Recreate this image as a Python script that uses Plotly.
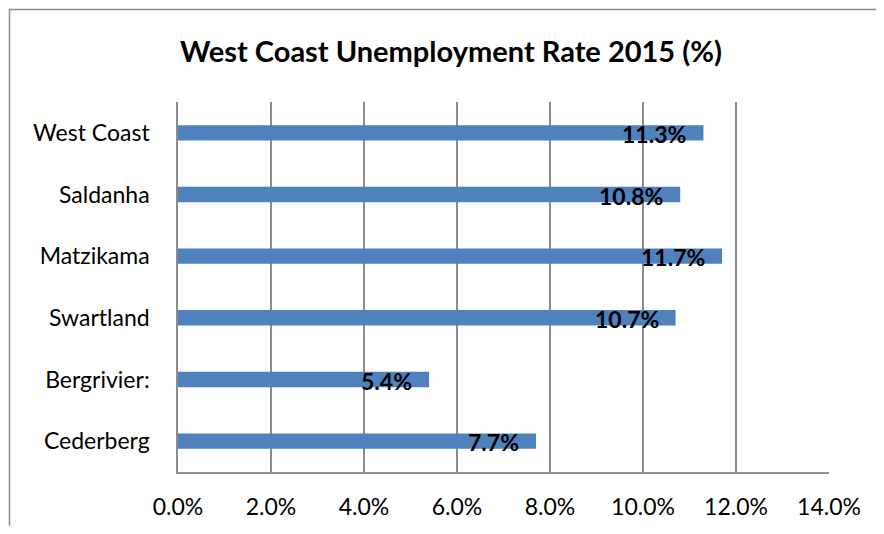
import plotly.graph_objects as go

categories = ["Cederberg", "Bergrivier:", "Swartland", "Matzikama", "Saldanha", "West Coast"]
values = [7.7, 5.4, 10.7, 11.7, 10.8, 11.3]
labels = ["7.7%", "5.4%", "10.7%", "11.7%", "10.8%", "11.3%"]
tick_vals = [0, 2, 4, 6, 8, 10, 12, 14]
tick_text = ["0.0%", "2.0%", "4.0%", "6.0%", "8.0%", "10.0%", "12.0%", "14.0%"]

FONT = "Lato"
GRID = "#8c8c8c"

OFF = 8
W, H = 884 - 2 * OFF, 534 - 2 * OFF
L, R, T, B = 178 - OFF, 829 - OFF, 102 - OFF, 472 - OFF

fig = go.Figure()
fig.add_trace(go.Bar(
    x=values, y=categories, orientation="h",
    marker=dict(color="#4F81BD", line=dict(width=0)),
    width=0.25, hoverinfo="skip",
))

annotations = []
for c, v, t in zip(categories, values, labels):
    annotations.append(dict(
        x=v, y=c, xref="x", yref="y", text="<b>%s</b>" % t,
        showarrow=False, xanchor="right", yanchor="middle",
        xshift=-15, yshift=-1,
        font=dict(family=FONT, size=23, color="black"),
    ))

def px(x): return (x - OFF - L) / (R - L)
def py(y): return (B - (y - OFF)) / (B - T)

shapes = [
    dict(type="line", xref="paper", yref="paper", x0=px(9), x1=px(890), y0=py(9.5), y1=py(9.5),
         line=dict(color="#8c8c8c", width=1.5)),
    dict(type="line", xref="paper", yref="paper", x0=px(9.5), x1=px(9.5), y0=py(9.5), y1=py(560),
         line=dict(color="#8c8c8c", width=1.5)),
]

fig.update_layout(
    width=W, height=H,
    margin=dict(l=L, r=W - R, t=T, b=H - B, pad=0, autoexpand=False),
    paper_bgcolor="white", plot_bgcolor="white",
    showlegend=False,
    title=dict(text="<b>West Coast Unemployment Rate 2015 (%)</b>", x=(451 - OFF) / W, xanchor="center",
               y=1 - (52 - OFF) / H, yanchor="middle", automargin=False,
               font=dict(family=FONT, size=29, color="black")),
    xaxis=dict(range=[0, 14], tickvals=tick_vals, ticktext=tick_text, automargin=False,
               showgrid=True, gridcolor=GRID, gridwidth=1.5,
               showline=True, linecolor=GRID, linewidth=1.5,
               zeroline=False, ticks="", ticklabelstandoff=14,
               tickfont=dict(family=FONT, size=23, color="black"), fixedrange=True),
    yaxis=dict(categoryorder="array", categoryarray=categories, automargin=False,
               showgrid=False, showline=True, linecolor=GRID, linewidth=1.5,
               ticks="", ticklabelstandoff=22,
               tickfont=dict(family=FONT, size=23, color="black"), fixedrange=True),
    annotations=annotations,
    shapes=shapes,
)

fig.write_html("out.html")
